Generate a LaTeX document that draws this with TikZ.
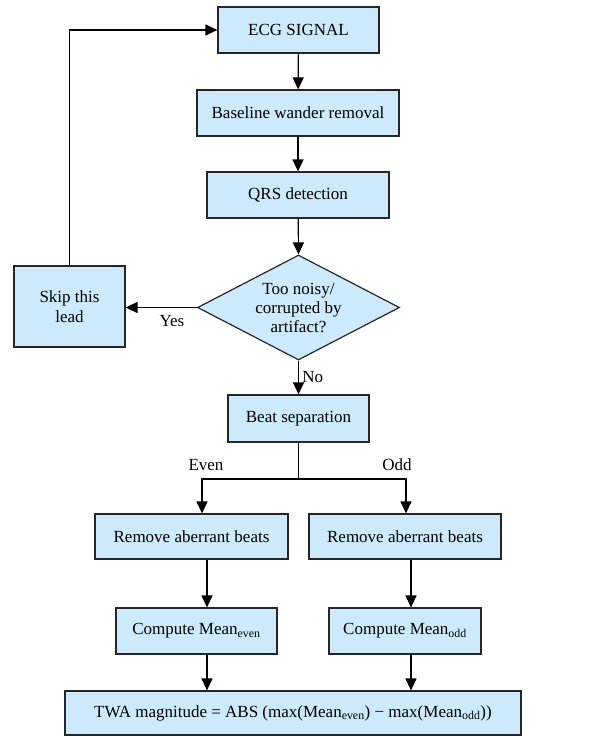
\documentclass[tikz,border=0pt]{standalone}
\usepackage{fontspec}
\setmainfont{Liberation Serif}
\usetikzlibrary{arrows.meta}
\usetikzlibrary{shapes.geometric}
\definecolor{boxblue}{HTML}{CCEAFB}

\begin{document}
\begin{tikzpicture}[x=1pt, y=1pt,
    font=\fontsize{17}{20}\selectfont,
    block/.style={rectangle, draw=black!85, fill=boxblue, line width=1.2pt, inner sep=2pt, align=center},
    decide/.style={diamond, draw=black!85, fill=boxblue, line width=1.2pt, inner sep=0pt, aspect=1.92, align=center},
    flow/.style={-{Triangle[width=11pt, length=12pt]}, line width=1.2pt}]

      \useasboundingbox (0, 0) rectangle (605, -736);

      \node[block, minimum width=161pt, minimum height=46pt] (ecg) at (298.5, -30) {ECG SIGNAL};
      \node[block, minimum width=202pt, minimum height=46pt] (baseline) at (298, -113) {Baseline wander removal};
      \node[block, minimum width=182pt, minimum height=46pt] (qrs) at (298, -195) {QRS detection};
      \node[decide, minimum width=202pt, minimum height=105pt, font=\fontsize{17}{19}\selectfont] (noisy) at (298.5, -307.5) {Too noisy/\\corrupted by\\artifact?};
      \node[block, minimum width=111pt, minimum height=81pt] (skip) at (69.5, -306.5) {Skip this\\lead};
      \node[block, minimum width=141pt, minimum height=47pt] (beat) at (298.5, -418.5) {Beat separation};
      \node[block, minimum width=193pt, minimum height=45pt] (remeven) at (191.5, -536.5) {Remove aberrant beats};
      \node[block, minimum width=192pt, minimum height=45pt] (remodd) at (405, -536.5) {Remove aberrant beats};
      \node[block, minimum width=161pt, minimum height=46pt] (meaneven) at (196.5, -631) {Compute Mean\textsubscript{even}};
      \node[block, minimum width=152pt, minimum height=46pt] (meanodd) at (405, -631) {Compute Mean\textsubscript{odd}};
      \node[block, minimum width=456pt, minimum height=44pt] (twa) at (293, -713) {TWA magnitude = ABS (max(Mean\textsubscript{even}) − max(Mean\textsubscript{odd}))};

      \coordinate (split) at (298.5, -479);

      \draw[flow] (ecg) -- (baseline);
      \draw[flow] (baseline) -- (qrs);
      \draw[flow] (qrs) -- (noisy.north);
      \draw[flow] (noisy.west) -- (skip.east |- noisy.west) node[pos=0.35, below=4pt] {Yes};
      \draw[flow] (skip.north) |- (ecg.west);
      \draw[flow] (noisy.south) -- (beat.north) node[midway, right] {No};

      \draw[line width=1.2pt] (beat.south) -- (split);
      \draw[flow] (split) -| ([xshift=10.5pt]remeven.north) node[pos=0.5, above=4pt, xshift=4pt] {Even};
      \draw[flow] (split) -| ([xshift=1pt]remodd.north) node[pos=0.5, above=4pt, xshift=-9pt] {Odd};

      \draw[flow] ([xshift=15.5pt]remeven.south) -- ([xshift=10.5pt]meaneven.north);
      \draw[flow] ([xshift=6pt]remodd.south) -- ([xshift=6pt]meanodd.north);
      \draw[flow] ([xshift=10.5pt]meaneven.south) -- (twa.north -| {(207, 0)});
      \draw[flow] ([xshift=6pt]meanodd.south) -- (twa.north -| {(411, 0)});

    \end{tikzpicture}
\end{document}
